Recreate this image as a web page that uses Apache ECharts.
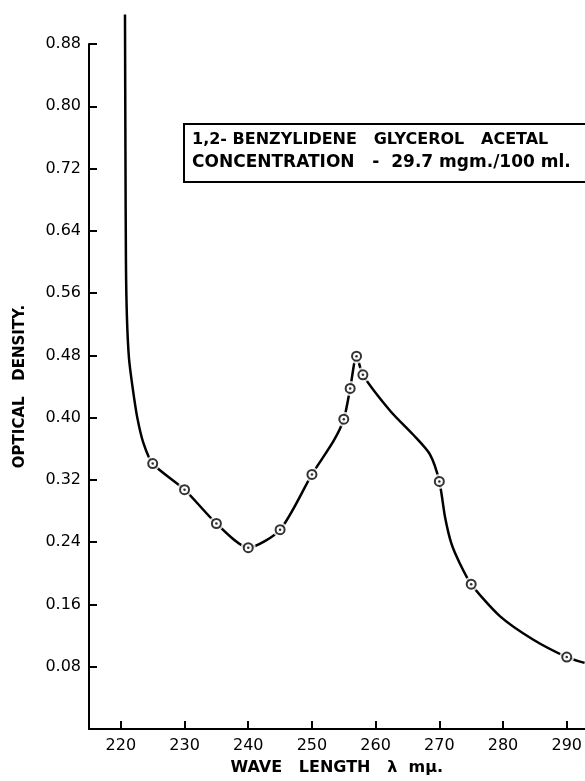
<!DOCTYPE html>
<html>
<head>
<meta charset="utf-8">
<script src="https://cdn.jsdelivr.net/npm/echarts@6/dist/echarts.min.js"></script>
<style>
  html, body { margin: 0; padding: 0; background: #fff; }
  #chart { width: 585px; height: 781px; }
</style>
</head>
<body>
<div id="chart"></div>
<script>
// Measured points (circles)
const wavelengths = [225, 230, 235, 240, 245, 250, 255, 256, 257, 258, 270, 275, 290];
const densities   = [0.341, 0.3075, 0.264, 0.233, 0.256, 0.327, 0.398, 0.4375, 0.479, 0.455, 0.318, 0.186, 0.0924];

// Hand-drawn smooth curve
const curveX = [220.65, 220.72, 220.8, 220.95, 221.28, 221.86, 222.58, 223.52, 225, 230, 235, 240, 245, 250, 253.4, 255, 256, 257, 258, 262.3, 265.9, 268.5, 270, 270.9, 271.9, 273.2, 275, 279.5, 284.7, 290, 292.8];
const curveY = [0.918, 0.744, 0.600, 0.530, 0.476, 0.438, 0.400, 0.368, 0.341, 0.3075, 0.264, 0.233, 0.256, 0.327, 0.370, 0.398, 0.4375, 0.479, 0.455, 0.4086, 0.378, 0.353, 0.318, 0.272, 0.238, 0.213, 0.186, 0.145, 0.115, 0.0924, 0.085];

const xTicks = [220, 230, 240, 250, 260, 270, 280, 290];
const yTicks = [0.08, 0.16, 0.24, 0.32, 0.40, 0.48, 0.56, 0.64, 0.72, 0.80, 0.88];

const titleLine1 = '1,2- BENZYLIDENE   GLYCEROL   ACETAL';
const titleLine2 = 'CONCENTRATION   -  29.7 mgm./100 ml.';
const xName = 'WAVE   LENGTH   λ  mμ.';
const yName = 'OPTICAL   DENSITY.';

const FONT = 'DejaVu Sans';
const chart = echarts.init(document.getElementById('chart'));

const pts = wavelengths.map((w, i) => [w, densities[i]]);
const curve = curveX.map((x, i) => [x, curveY[i]]);

chart.setOption({
  animation: false,
  backgroundColor: '#fff',
  grid: { left: 89, right: 0, top: 44, bottom: 47.5, containLabel: false },
  xAxis: {
    type: 'value', min: 215, max: 292.8,
    name: xName, nameLocation: 'middle', nameGap: 31,
    nameTextStyle: { fontFamily: FONT, fontSize: 16, color: '#000', fontWeight: 'bold' },
    axisLine: { show: true, lineStyle: { color: '#000', width: 2 } },
    axisTick: { show: true, inside: true, length: 8, lineStyle: { color: '#000', width: 2 }, customValues: xTicks },
    axisLabel: { customValues: xTicks, fontFamily: FONT, fontSize: 16, color: '#000', margin: 9 },
    splitLine: { show: false }
  },
  yAxis: {
    type: 'value', min: 0, max: 0.88,
    name: yName, nameLocation: 'middle', nameGap: 61, nameRotate: 90,
    nameTextStyle: { fontFamily: FONT, fontSize: 15, color: '#000', fontWeight: 'bold' },
    axisLine: { show: true, lineStyle: { color: '#000', width: 2 } },
    axisTick: { show: true, inside: true, length: 8, lineStyle: { color: '#000', width: 2 }, customValues: yTicks },
    axisLabel: { customValues: yTicks, fontFamily: FONT, fontSize: 16, color: '#000', margin: 8,
      formatter: v => v.toFixed(2) },
    splitLine: { show: false }
  },
  series: [
    {
      type: 'line', data: curve, smooth: 0.25, clip: false,
      showSymbol: false, lineStyle: { color: '#000', width: 2.5 }, z: 2
    },
    {
      type: 'scatter', data: pts, symbol: 'circle', symbolSize: 15,
      itemStyle: { color: '#fff' }, z: 3
    },
    {
      type: 'scatter', data: pts, symbol: 'circle', symbolSize: 9,
      itemStyle: { color: '#fff', borderColor: '#000', borderWidth: 2 }, z: 4
    },
    {
      type: 'scatter', data: pts, symbol: 'circle', symbolSize: 2.5,
      itemStyle: { color: '#000' }, z: 5
    }
  ],
  graphic: [
    {
      type: 'rect', left: 183, top: 123, z: 10,
      shape: { width: 430, height: 58 },
      style: { fill: '#fff', stroke: '#000', lineWidth: 2 }
    },
    {
      type: 'text', left: 192, top: 132, z: 11,
      style: { text: titleLine1, font: 'bold 16px "DejaVu Sans"', fill: '#000' }
    },
    {
      type: 'text', left: 192, top: 154, z: 11,
      style: { text: titleLine2, font: 'bold 17px "DejaVu Sans"', fill: '#000' }
    }
  ]
});
</script>
</body>
</html>
